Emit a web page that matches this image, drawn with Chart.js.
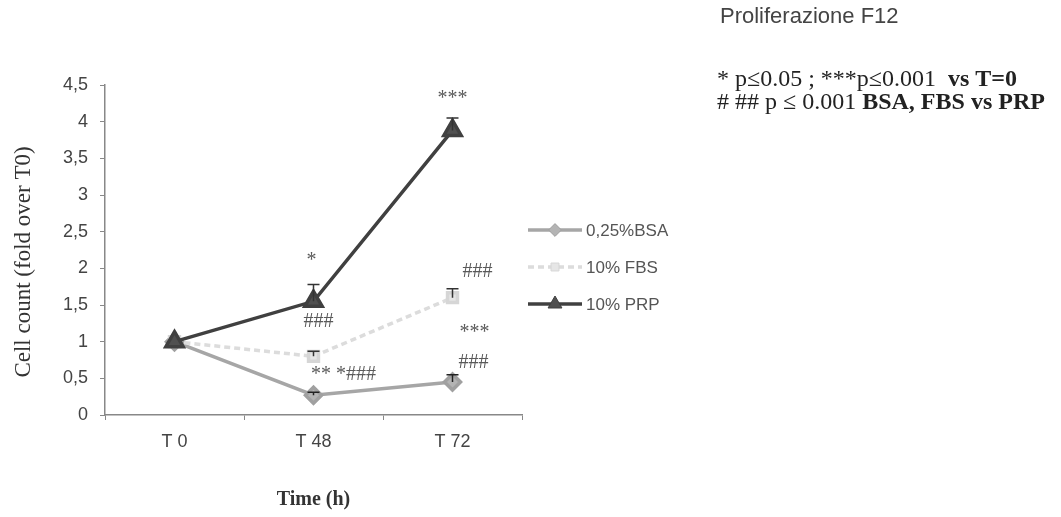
<!DOCTYPE html>
<html>
<head>
<meta charset="utf-8">
<script src="https://cdn.jsdelivr.net/npm/chart.js@4.4.1/dist/chart.umd.min.js"></script>
<style>
  html, body { margin: 0; padding: 0; background: #fff; }
  #wrap { width: 1061px; height: 517px; position: relative; }
</style>
</head>
<body>
<div id="wrap"><canvas id="c" width="1061" height="517"></canvas></div>
<script>
// ---- data ----
const categories = ['T 0', 'T 48', 'T 72'];
const yTicks = [0, 0.5, 1, 1.5, 2, 2.5, 3, 3.5, 4, 4.5];
const bsaValues = [1, 0.27, 0.45];
const bsaErrors = [0, 0.04, 0.10];
const fbsValues = [1, 0.80, 1.60];
const fbsErrors = [0, 0.07, 0.12];
const prpValues = [1, 1.55, 3.88];
const prpErrors = [0, 0.23, 0.17];
const seriesNames = ['0,25%BSA', '10% FBS', '10% PRP'];
const annotTexts = ['*', '###', '***', '###', '***', '###', '** *###'];
const annotCats = [1, 1, 2, 2, 2, 2, 1];
const annotValues = [2.10, 1.27, 4.31, 1.95, 1.12, 0.71, 0.55];

const chartTitle = 'Proliferazione F12';
const yTitle = 'Cell count (fold over T0)';
const xTitle = 'Time (h)';

// ---- styles / layout ----
const annotDx = [-2, 5, 0, 25, 22, 21, 30];
const sansFont = '"Liberation Sans", Arial, sans-serif';
const serifFont = '"Liberation Serif", "Times New Roman", serif';

const errorBars = {
  id: 'errorBars',
  afterDatasetsDraw(chart) {
    const ctx = chart.ctx;
    const y = chart.scales.y;
    ctx.save();
    chart.data.datasets.forEach((ds, di) => {
      const meta = chart.getDatasetMeta(di);
      ds.errors.forEach((e, i) => {
        if (!e) return;
        const px = meta.data[i].x;
        const y0 = y.getPixelForValue(ds.data[i]);
        const y1 = y.getPixelForValue(ds.data[i] + e);
        ctx.strokeStyle = ds.errColor;
        ctx.lineWidth = 1.5;
        ctx.beginPath();
        ctx.moveTo(px, y0); ctx.lineTo(px, y1);
        ctx.moveTo(px - 6, y1); ctx.lineTo(px + 6, y1);
        ctx.stroke();
      });
    });
    ctx.restore();
  }
};

const extras = {
  id: 'extras',
  afterDraw(chart) {
    const ctx = chart.ctx;
    const xs = chart.scales.x, ys = chart.scales.y;
    const area = chart.chartArea;
    ctx.save();
    // annotations
    ctx.fillStyle = '#5a5a5a';
    ctx.font = '20px ' + serifFont;
    ctx.textAlign = 'center';
    ctx.textBaseline = 'middle';
    annotTexts.forEach((t, i) => {
      const px = xs.getPixelForValue(annotCats[i]) + annotDx[i];
      const py = ys.getPixelForValue(annotValues[i]);
      ctx.fillText(t, px, py);
    });
    // axis titles
    ctx.fillStyle = '#333';
    ctx.font = '23px ' + serifFont;
    ctx.save();
    ctx.translate(24, 262);
    ctx.rotate(-Math.PI / 2);
    ctx.fillText(yTitle, 0, 0);
    ctx.restore();
    ctx.font = 'bold 20px ' + serifFont;
    ctx.fillText(xTitle, (area.left + area.right) / 2, 500);
    // legend
    const rows = [230, 267, 304];
    chart.data.datasets.forEach((ds, i) => {
      const ry = rows[i];
      ctx.save();
      ctx.strokeStyle = ds.borderColor;
      ctx.lineWidth = ds.borderWidth;
      ctx.setLineDash(ds.borderDash || []);
      ctx.beginPath(); ctx.moveTo(528, ry); ctx.lineTo(582, ry); ctx.stroke();
      ctx.restore();
      ctx.fillStyle = ds.pointBackgroundColor;
      ctx.strokeStyle = ds.pointBorderColor;
      Chart.helpers.drawPoint(ctx, {
        pointStyle: ds.pointStyle, radius: ds.pointRadius * 0.8, borderWidth: 1, rotation: 0
      }, 555, ry);
      ctx.fillStyle = '#555';
      ctx.font = '17px ' + sansFont;
      ctx.textAlign = 'left';
      ctx.fillText(ds.label, 586, ry + 1);
    });
    // right-side texts
    ctx.fillStyle = '#444';
    ctx.font = '22px ' + sansFont;
    ctx.textAlign = 'left';
    ctx.fillText(chartTitle, 720, 17);
    ctx.fillStyle = '#222';
    function seg(parts, x, y) {
      parts.forEach(p => {
        ctx.font = (p[1] ? 'bold ' : '') + '24px ' + serifFont;
        ctx.fillText(p[0], x, y);
        x += ctx.measureText(p[0]).width;
      });
    }
    seg([['* p\u22640.05 ; ***p\u22640.001  ', false], ['vs T=0', true]], 717, 80);
    seg([['# ## p \u2264 0.001 ', false], ['BSA, FBS vs PRP', true]], 717, 103);
    ctx.restore();
  }
};

const fmt = v => String(v).replace('.', ',');

new Chart(document.getElementById('c'), {
  type: 'line',
  data: {
    labels: categories,
    datasets: [
      {
        label: seriesNames[0], data: bsaValues, errors: bsaErrors, errColor: '#222',
        borderColor: '#a6a6a6', borderWidth: 3.5, pointStyle: 'rectRot', pointRadius: 8,
        pointBackgroundColor: '#b4b4b4', pointBorderColor: '#a0a0a0', tension: 0, order: 2
      },
      {
        label: seriesNames[1], data: fbsValues, errors: fbsErrors, errColor: '#333',
        borderColor: '#dcdcdc', borderWidth: 3.5, borderDash: [6, 4], pointStyle: 'rect', pointRadius: 7,
        pointBackgroundColor: '#e6e6e6', pointBorderColor: '#d6d6d6', tension: 0, order: 1
      },
      {
        label: seriesNames[2], data: prpValues, errors: prpErrors, errColor: '#333',
        borderColor: '#404040', borderWidth: 3.5, pointStyle: 'triangle', pointRadius: 10,
        pointBackgroundColor: '#505050', pointBorderColor: '#404040', tension: 0, order: 0
      }
    ]
  },
  options: {
    responsive: false,
    animation: false,
    events: [],
    layout: { padding: { top: 85, right: 539, left: 0, bottom: 0 } },
    plugins: { legend: { display: false }, tooltip: { enabled: false } },
    scales: {
      x: {
        offset: true,
        grid: { offset: true, drawOnChartArea: false, drawTicks: true, tickLength: 5, color: '#888' },
        border: { color: '#888', width: 1.5 },
        ticks: { color: '#444', font: { family: sansFont, size: 18 }, padding: 11 },
        afterFit(s) { s.height = 102; }
      },
      y: {
        min: 0, max: 4.5,
        afterBuildTicks(s) { s.ticks = yTicks.map(v => ({ value: v })); },
        grid: { drawOnChartArea: false, drawTicks: true, tickLength: 5, color: '#888' },
        border: { color: '#888', width: 1.5 },
        ticks: { color: '#444', font: { family: sansFont, size: 18 }, padding: 12, callback: v => fmt(v) },
        afterFit(s) { s.width = 105; }
      }
    }
  },
  plugins: [errorBars, extras]
});
</script>
</body>
</html>
